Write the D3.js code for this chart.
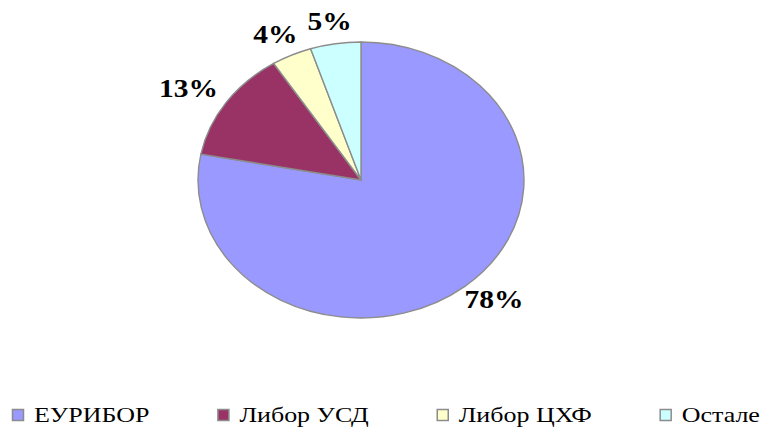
<!DOCTYPE html>
<html>
<head>
<meta charset="utf-8">
<script src="https://cdn.jsdelivr.net/npm/d3@7"></script>
<style>
  body { margin: 0; background: #fff; }
  svg { display: block; }
</style>
</head>
<body>
<svg width="761" height="428"></svg>
<script>
// data
var categories = ["ЕУРИБОР", "Либор УСД", "Либор ЦХФ", "Остале"];
var shares = [78, 13, 4, 5];
var labels = ["78%", "13%", "4%", "5%"];
var colors = ["#9999ff", "#993366", "#ffffcc", "#ccffff"];

var serif = "'Liberation Serif', 'Times New Roman', Times, serif";

var svg = d3.select("svg");
var width = 761, height = 428;

var cx = 361, cy = 180;
var rx = 163, ry = 138;
var stretch = rx / ry; // the whole chart is wider than tall

var pie = d3.pie().sort(null).value(function(d) { return d; });
var arcs = pie(shares);

var arc = d3.arc().innerRadius(0).outerRadius(ry);

var g = svg.append("g")
	.attr("transform", "translate(" + cx + "," + cy + ") scale(" + stretch + ",1)");

g.selectAll("path")
	.data(arcs)
	.enter().append("path")
	.attr("d", arc)
	.attr("fill", function(d, i) { return colors[i]; })
	.attr("stroke", "#8c8c8c")
	.attr("stroke-width", 1.4)
	.attr("vector-effect", "non-scaling-stroke");

// percent labels outside the pie
svg.selectAll("text.lbl")
	.data(arcs)
	.enter().append("text")
	.attr("class", "lbl")
	.attr("font-family", serif)
	.attr("font-size", 25)
	.attr("font-weight", "bold")
	.attr("text-anchor", "middle")
	.text(function(d, i) { return labels[i]; })
	.attr("transform", function(d) {
		var a = (d.startAngle + d.endAngle) / 2;
		var hw = this.getComputedTextLength() * stretch / 2;
		var x = cx + (rx + hw + 16) * Math.sin(a);
		var y = cy - (ry + 20) * Math.cos(a) + 6;
		return "translate(" + x + "," + y + ") scale(" + stretch + ",1)";
	});

// legend
var legend = svg.append("g");
var box = 11, gap = 11, itemGap = 68;
var xpos = 0;
categories.forEach(function(c, i) {
	var item = legend.append("g").attr("transform", "translate(" + xpos + ",0)");
	item.append("rect")
		.attr("x", 0.5).attr("y", -12.5)
		.attr("width", box).attr("height", box)
		.attr("fill", colors[i])
		.attr("stroke", "#8c8c8c")
		.attr("stroke-width", 1.5);
	var t = item.append("text")
		.attr("font-family", serif)
		.attr("font-size", 22)
		.attr("transform", "translate(" + (box + gap) + ",0) scale(" + stretch + ",1)")
		.text(c);
	xpos += box + gap + t.node().getComputedTextLength() * stretch + itemGap;
});
var total = xpos - itemGap;
legend.attr("transform", "translate(" + Math.round(385.5 - total / 2) + ",422)");
</script>
</body>
</html>
